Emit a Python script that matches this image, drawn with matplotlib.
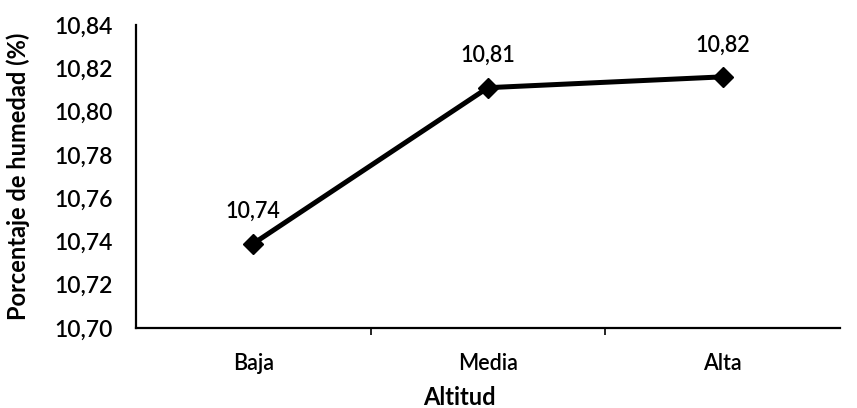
import matplotlib
matplotlib.use('Agg')
import matplotlib.pyplot as plt
from matplotlib.ticker import FuncFormatter, FixedLocator

plt.rcParams['font.family'] = ['Lato', 'DejaVu Sans']
plt.rcParams['font.weight'] = 'semibold'

# Humidity by altitude level
categories = ['Baja', 'Media', 'Alta']
humedad = [10.739, 10.811, 10.816]
y_ticks = [10.70, 10.72, 10.74, 10.76, 10.78, 10.80, 10.82, 10.84]

def coma(v, pos=None):
    return '{:.2f}'.format(v).replace('.', ',')

fig = plt.figure(figsize=(8.57, 4.08), dpi=100)
ax = fig.add_axes([0.1587, 0.196, 0.8213, 0.743])

x = list(range(len(categories)))
ax.plot(x, humedad, color='black', linewidth=3.6, marker='D', markersize=10,
        solid_joinstyle='miter')

for xi, v in zip(x, humedad):
    ax.annotate(coma(v), (xi, v), xytext=(0, 23), textcoords='offset points',
                ha='center', va='center', fontsize=15.5)

ax.set_xlim(-0.5, len(categories) - 0.5)
ax.set_ylim(y_ticks[0], y_ticks[-1])
ax.set_yticks(y_ticks)
ax.yaxis.set_major_formatter(FuncFormatter(coma))

# category labels between the boundary ticks
ax.set_xticks(x)
ax.set_xticklabels(categories)
ax.tick_params(axis='x', which='major', length=0, pad=18, labelsize=15.5)
ax.xaxis.set_minor_locator(FixedLocator([0.5, 1.5]))
ax.tick_params(axis='x', which='minor', length=5, width=1.2, direction='out')
ax.tick_params(axis='y', length=0, pad=17, labelsize=16.5)

for side in ['top', 'right']:
    ax.spines[side].set_visible(False)
for side in ['left', 'bottom']:
    ax.spines[side].set_linewidth(1.6)

ax.set_ylabel('Porcentaje de humedad (%)', fontsize=17, fontweight='bold')
ax.yaxis.set_label_coords(-0.15, 0.5)
ax.set_xlabel('Altitud', fontsize=17, fontweight='bold')
ax.xaxis.set_label_coords(0.46, -0.19)

fig.savefig('out.png', dpi=100)
